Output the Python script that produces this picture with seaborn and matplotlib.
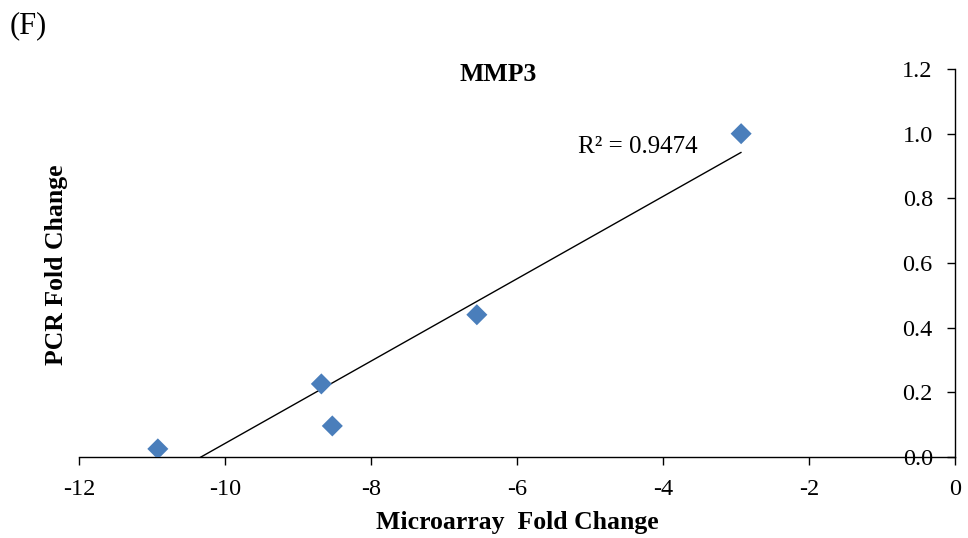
import numpy as np
import pandas as pd
import seaborn as sns
import matplotlib.pyplot as plt
from matplotlib.ticker import FormatStrFormatter

# values
microarray = [-10.92, -8.68, -8.53, -6.55, -2.93]
pcr = [0.025, 0.226, 0.096, 0.44, 1.0]
r2_label = 'R² = 0.9474'
gene = 'MMP3'
panel = '(F)'

df = pd.DataFrame({'Microarray Fold Change': microarray, 'PCR Fold Change': pcr})

sns.set_style('white')
plt.rcParams['font.family'] = ['Liberation Serif', 'DejaVu Serif']
plt.rcParams['axes.unicode_minus'] = False
plt.rcParams['text.color'] = 'black'
plt.rcParams['axes.labelcolor'] = 'black'

fig = plt.figure(figsize=(9.68, 5.38), dpi=100)
ax = fig.add_axes([0.0816, 0.1506, 0.905, 0.7211])

sns.regplot(data=df, x='Microarray Fold Change', y='PCR Fold Change', ax=ax,
            ci=None, truncate=True, marker='D',
            scatter_kws={'s': 115, 'color': '#4A7EBB', 'edgecolor': 'none', 'alpha': 1, 'zorder': 3},
            line_kws={'color': 'black', 'lw': 1})

ax.set_xlim(-12, 0)
ax.set_ylim(0, 1.2)
ax.set_xticks(np.arange(-12, 1, 2))
ax.set_yticks(np.arange(0, 1.21, 0.2))
ax.yaxis.set_major_formatter(FormatStrFormatter('%.1f'))

# y axis sits at x = 0 on the right
ax.spines['left'].set_position(('data', 0))
ax.spines['right'].set_visible(False)
ax.spines['top'].set_visible(False)
for s in ['left', 'bottom']:
    ax.spines[s].set_color('black')
    ax.spines[s].set_linewidth(1)
ax.tick_params(axis='both', direction='out', length=6, width=1, colors='black', labelsize=17.5,
               left=True, bottom=True)
ax.tick_params(axis='x', pad=10)
ax.tick_params(axis='y', pad=10)

ax.set_xlabel('Microarray  Fold Change', fontsize=18.5, fontweight='bold', labelpad=8)
ax.set_ylabel('PCR Fold Change', fontsize=18.5, fontweight='bold')
ax.yaxis.set_label_coords(-0.012, 0.495)

ax.text(0.479, 0.985, gene, transform=ax.transAxes, ha='center', va='center',
        fontsize=18.5, fontweight='bold')
ax.text(-4.35, 0.96, r2_label, ha='center', va='center', fontsize=18)
fig.text(0.010, 0.953, panel, ha='left', va='center', fontsize=22)

fig.savefig('out.png', dpi=100)
